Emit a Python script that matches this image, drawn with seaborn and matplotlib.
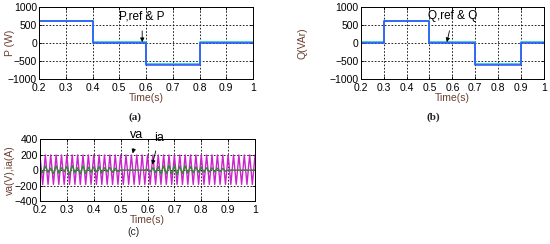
import numpy as np
import pandas as pd
import matplotlib
matplotlib.use("Agg")
import matplotlib.pyplot as plt
import seaborn as sns

# ---------------- data ----------------
step_times = [0.2, 0.4, 0.6, 0.8, 1.0]
p_ref = [600, 0, -600, 0, 0]
p_meas = [620, 20, -585, 20, 20]

q_times = [0.2, 0.3, 0.5, 0.7, 0.9, 1.0]
q_ref = [0, 600, 0, -600, 0, 0]
q_meas = [20, 620, 20, -585, 20, 20]

# half-cycle peak values (50 Hz -> one value every 0.01 s, 0.2 .. 1.0 s)
va_peaks = [195, -185, 195, -185, 195, -185, 195, -185, 195, -185,
            195, -185, 195, -185, 195, -185, 195, -185, 195, -185,
            195, -185, 195, -185, 195, -185, 195, -185, 195, -185,
            195, -185, 195, -185, 195, -185, 195, -185, 195, -185,
            195, -185, 195, -185, 195, -185, 195, -185, 195, -185,
            195, -185, 195, -185, 195, -185, 195, -185, 195, -185,
            195, -185, 195, -185, 195, -185, 195, -185, 195, -185,
            195, -185, 195, -185, 195, -185, 195, -185, 195, -185,
            195]
ia_peaks = [40, -35, 50, -30, 25, -45, 55, -40, 30, -20,
            45, -55, 60, -35, 30, -50, 55, -45, 35, -30,
            40, -25, 45, -40, 30, -20, 35, -30, 25, -20,
            0, 0, 0, 0, 0, 0, 0, 0, 0, 0,
            10, -20, 30, -35, 45, -50, 55, -45, 60, -50,
            55, -60, 50, -45, 55, -40, 45, -35, 40, -30,
            35, -30, 30, -25, 30, -25, 25, -20, 20, -15,
            0, 0, 0, 0, 0, 0, 0, 0, 0, 0,
            0]
wave_times = np.linspace(0.2, 1.0, len(va_peaks))

x_ticks = [0.2, 0.3, 0.4, 0.5, 0.6, 0.7, 0.8, 0.9, 1.0]
x_labels = ["0.2", "0.3", "0.4", "0.5", "0.6", "0.7", "0.8", "0.9", "1"]
pq_ticks = [-1000, -500, 0, 500, 1000]
vi_ticks = [-400, -200, 0, 200, 400]

# ---------------- style ----------------
sns.set_theme(style="white")
plt.rcParams["font.family"] = ["Liberation Sans", "DejaVu Sans"]

label_color = "#6b3f30"
blue = "#2f4fff"
cyan = "#33cccc"
magenta = "#cc22cc"
green = "#2e8b2e"
fs = 7.5
afs = 8.5

fig = plt.figure(figsize=(5.5, 2.44), dpi=100)
fig.patch.set_facecolor("white")

ax_a = fig.add_axes([0.071, 0.676, 0.389, 0.295])
ax_b = fig.add_axes([0.656, 0.676, 0.333, 0.295])
ax_c = fig.add_axes([0.0727, 0.176, 0.391, 0.254])


def style_axis(ax, yticks, ylabel, ylab_x):
    ax.set_xlim(0.2, 1.0)
    ax.set_ylim(yticks[0], yticks[-1])
    ax.set_xticks(x_ticks)
    ax.set_xticklabels(x_labels)
    ax.set_yticks(yticks)
    ax.tick_params(direction="in", length=2.5, width=0.6, labelsize=fs,
                   pad=1.5, colors="black", top=True, right=True,
                   bottom=True, left=True)
    ax.tick_params(axis="x", pad=2.5)
    ax.grid(True, color="black", linestyle=(0, (2, 2)), linewidth=0.6)
    for s in ax.spines.values():
        s.set_visible(True)
        s.set_color("black")
        s.set_linewidth(0.7)
    ax.set_xlabel("Time(s)", fontsize=fs, color=label_color, labelpad=0)
    ax.set_ylabel(ylabel, fontsize=fs, color=label_color)
    ax.yaxis.set_label_coords(ylab_x, 0.5)
    ax.set_facecolor("white")


# panel (a)
df_a = pd.DataFrame({"t": step_times, "ref": p_ref, "meas": p_meas})
sns.lineplot(data=df_a, x="t", y="meas", ax=ax_a, color=cyan, linewidth=1.3,
             drawstyle="steps-post", sort=False)
sns.lineplot(data=df_a, x="t", y="ref", ax=ax_a, color=blue, linewidth=1.1,
             drawstyle="steps-post", sort=False)
style_axis(ax_a, pq_ticks, "P (W)", -0.112)
ax_a.annotate("P,ref & P", xy=(0.586, 25), xytext=(0.585, 750),
              fontsize=afs, ha="center", va="center", color="black",
              arrowprops=dict(arrowstyle="-|>", color="black", lw=0.6,
                              mutation_scale=6, shrinkA=4, shrinkB=0))

# panel (b)
df_b = pd.DataFrame({"t": q_times, "ref": q_ref, "meas": q_meas})
sns.lineplot(data=df_b, x="t", y="meas", ax=ax_b, color=cyan, linewidth=1.3,
             drawstyle="steps-post", sort=False)
sns.lineplot(data=df_b, x="t", y="ref", ax=ax_b, color=blue, linewidth=1.1,
             drawstyle="steps-post", sort=False)
style_axis(ax_b, pq_ticks, "Q(VAr)", -0.29)
ax_b.annotate("Q,ref & Q", xy=(0.576, 25), xytext=(0.602, 750),
              fontsize=afs, ha="center", va="center", color="black",
              arrowprops=dict(arrowstyle="-|>", color="black", lw=0.6,
                              mutation_scale=6, shrinkA=4, shrinkB=0))

# panel (c)
df_c = pd.DataFrame({"t": wave_times, "va": va_peaks, "ia": ia_peaks})
sns.lineplot(data=df_c, x="t", y="va", ax=ax_c, color=magenta, linewidth=1.0,
             sort=False)
sns.lineplot(data=df_c, x="t", y="ia", ax=ax_c, color=green, linewidth=1.0,
             sort=False)
style_axis(ax_c, vi_ticks, "va(V),ia(A)", -0.116)
ax_c.annotate("va", xy=(0.545, 215), xytext=(0.561, 450),
              fontsize=afs + 0.5, ha="center", va="center", color="black",
              annotation_clip=False,
              arrowprops=dict(arrowstyle="-|>", color="black", lw=0.6,
                              mutation_scale=6, shrinkA=3, shrinkB=0))
ax_c.annotate("ia", xy=(0.618, 70), xytext=(0.643, 420),
              fontsize=afs + 0.5, ha="center", va="center", color="black",
              annotation_clip=False,
              arrowprops=dict(arrowstyle="-|>", color="black", lw=0.6,
                              mutation_scale=6, shrinkA=3, shrinkB=0))

# captions
fig.text(0.245, 0.52, "(a)", ha="center", va="center", fontsize=8,
         fontweight="bold", family=["Liberation Serif", "DejaVu Serif"])
fig.text(0.787, 0.52, "(b)", ha="center", va="center", fontsize=8,
         fontweight="bold", family=["Liberation Serif", "DejaVu Serif"])
fig.text(0.242, 0.049, "(c)", ha="center", va="center", fontsize=7.5)

fig.savefig("out.png", dpi=100, facecolor="white")
